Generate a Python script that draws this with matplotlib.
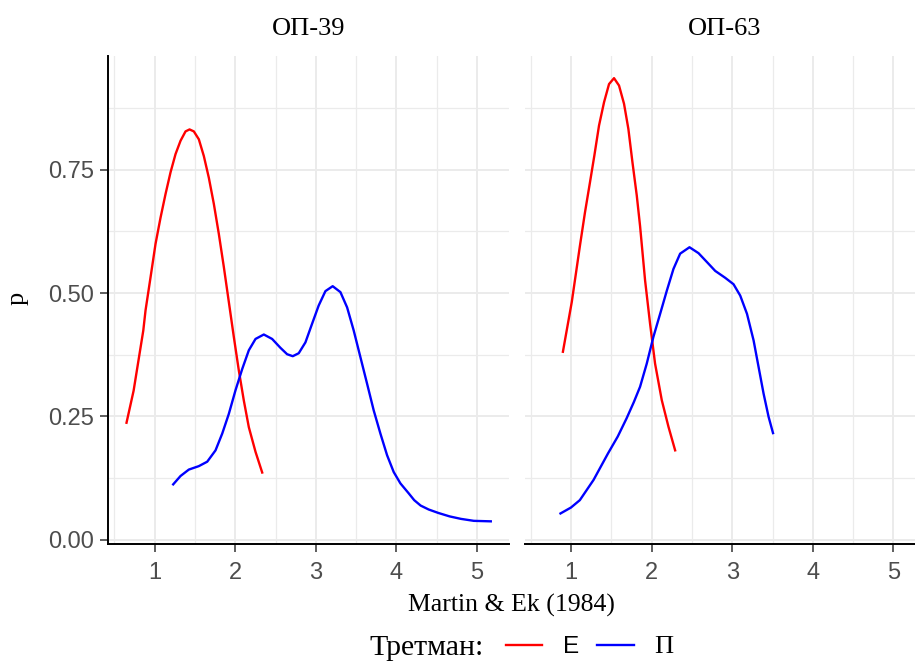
import numpy as np
import matplotlib
matplotlib.use("Agg")
import matplotlib.pyplot as plt
from matplotlib.lines import Line2D
from matplotlib.ticker import MultipleLocator

# readings, panel ОП-39
op39_e_x = [0.652, 0.74, 0.86, 0.888, 0.950, 1.012, 1.074, 1.136, 1.198, 1.260, 1.322, 1.384, 1.434,
            1.487, 1.549, 1.611, 1.673, 1.735, 1.797, 1.859, 1.921, 1.983, 2.045, 2.107, 2.169, 2.252, 2.335]
op39_e_y = [0.237, 0.302, 0.424, 0.465, 0.532, 0.600, 0.653, 0.701, 0.745, 0.782, 0.809, 0.828, 0.832,
            0.828, 0.812, 0.778, 0.734, 0.681, 0.620, 0.553, 0.482, 0.411, 0.343, 0.282, 0.228, 0.178, 0.136]
op39_p_x = [1.231, 1.322, 1.425, 1.549, 1.653, 1.756, 1.839, 1.921, 2.004, 2.087, 2.169, 2.252, 2.355,
            2.458, 2.561, 2.644, 2.714, 2.788, 2.871, 2.954, 3.036, 3.119, 3.209, 3.305, 3.388, 3.470,
            3.553, 3.636, 3.718, 3.801, 3.884, 3.966, 4.049, 4.151, 4.22, 4.30, 4.40, 4.52, 4.66, 4.80, 4.96, 5.17]
op39_p_y = [0.112, 0.129, 0.142, 0.149, 0.158, 0.181, 0.215, 0.255, 0.303, 0.346, 0.384, 0.407, 0.416,
            0.407, 0.389, 0.376, 0.372, 0.378, 0.400, 0.438, 0.475, 0.504, 0.514, 0.502, 0.471, 0.424,
            0.370, 0.316, 0.262, 0.215, 0.171, 0.137, 0.114, 0.094, 0.080, 0.069, 0.061, 0.054, 0.047, 0.042, 0.038, 0.037]

# panel ОП-63
op63_e_x = [0.90, 1.01, 1.112, 1.174, 1.236, 1.290, 1.348, 1.410, 1.472, 1.534, 1.596, 1.658, 1.712,
            1.762, 1.816, 1.857, 1.919, 1.981, 2.043, 2.126, 2.209, 2.292]
op63_e_y = [0.381, 0.482, 0.597, 0.664, 0.725, 0.779, 0.840, 0.887, 0.924, 0.936, 0.921, 0.884, 0.833,
            0.766, 0.698, 0.636, 0.526, 0.438, 0.357, 0.283, 0.229, 0.181]
op63_p_x = [0.87, 1.00, 1.11, 1.28, 1.46, 1.58, 1.69, 1.78, 1.857, 1.940, 2.022, 2.106, 2.189, 2.271, 2.354, 2.470,
            2.582, 2.686, 2.789, 2.913, 3.016, 3.099, 3.183, 3.265, 3.327, 3.389, 3.451, 3.506]
op63_p_y = [0.053, 0.065, 0.080, 0.121, 0.175, 0.209, 0.246, 0.279, 0.310, 0.357, 0.411, 0.458, 0.505, 0.549, 0.580, 0.593,
            0.581, 0.563, 0.545, 0.531, 0.518, 0.495, 0.458, 0.404, 0.350, 0.296, 0.249, 0.216]

panels = ["ОП-39", "ОП-63"]
groups = ["E", "П"]
colors = {"E": "red", "П": "blue"}
series = {
    "ОП-39": {"E": (op39_e_x, op39_e_y), "П": (op39_p_x, op39_p_y)},
    "ОП-63": {"E": (op63_e_x, op63_e_y), "П": (op63_p_x, op63_p_y)},
}

SERIF = "Liberation Serif"
SANS = "Liberation Sans"

W, H = 915, 662
fig = plt.figure(figsize=(W / 100, H / 100), dpi=100)

# ggplot-like 5% expansion of the shared scales
allx = np.concatenate([np.r_[xs] for p in panels for xs, _ in series[p].values()])
ally = np.concatenate([np.r_[ys] for p in panels for _, ys in series[p].values()])
dx = (allx.max() - allx.min()) * 0.05
dy = (ally.max() - ally.min()) * 0.05

top, bot = 56, 543.5
lefts = [108.3, 524.7]
pw = 400.7

for i, panel in enumerate(panels):
    ax = fig.add_axes([lefts[i] / W, (H - bot) / H, pw / W, (bot - top) / H])
    for g in groups:
        xs, ys = series[panel][g]
        ax.plot(xs, ys, color=colors[g], lw=1.7, solid_joinstyle="round")
    ax.set_xlim(allx.min() - dx, allx.max() + dx)
    ax.set_ylim(ally.min() - dy, ally.max() + dy)
    ax.xaxis.set_major_locator(MultipleLocator(1))
    ax.xaxis.set_minor_locator(MultipleLocator(0.5))
    ax.yaxis.set_major_locator(MultipleLocator(0.25))
    ax.yaxis.set_minor_locator(MultipleLocator(0.125))
    ax.grid(which="major", color="#EBEBEB", lw=1.4)
    ax.grid(which="minor", color="#EBEBEB", lw=0.9)
    ax.set_axisbelow(True)
    for s in ["top", "right"]:
        ax.spines[s].set_visible(False)
    ax.spines["bottom"].set_linewidth(1.4)
    ax.spines["left"].set_linewidth(1.4)
    ax.tick_params(which="minor", length=0)
    ax.tick_params(which="major", length=5.5, width=1.1, color="#333333",
                   labelcolor="#4D4D4D", labelsize=17)
    ax.tick_params(axis="x", pad=8)
    ax.tick_params(axis="y", pad=5)
    for lab in ax.get_xticklabels():
        lab.set_family(SANS)
    ax.set_yticks([0, 0.25, 0.5, 0.75])
    ax.set_yticklabels(["0.00", "0.25", "0.50", "0.75"], family=SANS)
    if i == 1:
        ax.spines["left"].set_visible(False)
        ax.tick_params(axis="y", left=False, labelleft=False)
    ax.set_title(panel, family=SERIF, fontsize=19, pad=15)

fig.text(18 / W, 1 - 298 / H, "p", family=SERIF, fontsize=19, rotation=90,
         ha="center", va="center")
fig.text(511 / W, 1 - 605 / H, "Martin & Ek (1984)", family=SERIF, fontsize=18.5,
         ha="center", va="center")

# legend: title on the left, keys in a row
fig.text(484 / W, 1 - 648 / H, "Третман:", family=SERIF, fontsize=21.5,
         ha="right", va="center")
handles = [Line2D([], [], color=colors[g], lw=1.7) for g in groups]
leg = fig.legend(handles, groups, loc="center left", bbox_to_anchor=(484 / W, 1 - 647 / H),
                 ncol=2, frameon=False, handlelength=1.5, handletextpad=0.85,
                 columnspacing=0.75, prop={"family": SANS, "size": 17.5})
leg.get_texts()[1].set_family(SERIF)
leg.get_texts()[1].set_fontsize(19)

fig.savefig("out.png", dpi=100)
